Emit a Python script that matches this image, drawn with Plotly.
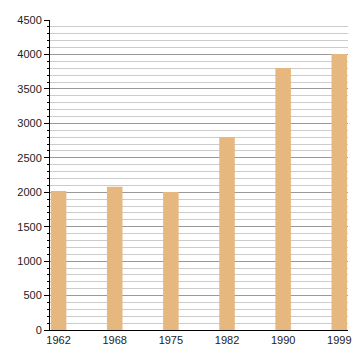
import plotly.graph_objects as go

years = ["1962", "1968", "1975", "1982", "1990", "1999"]
population = [2018, 2080, 2003, 2802, 3803, 4006]
y_ticks = [0, 500, 1000, 1500, 2000, 2500, 3000, 3500, 4000, 4500]

fig = go.Figure()
fig.add_trace(go.Bar(x=years, y=population, marker=dict(color="#E6B87F", line=dict(width=0)), width=0.277))

fig.update_layout(
    width=360, height=360,
    margin=dict(l=50, r=9, t=20, b=30),
    paper_bgcolor="white", plot_bgcolor="white",
    showlegend=False,
    font=dict(family="Liberation Sans, Arial, sans-serif", size=11, color="#222"),
)
fig.update_xaxes(
    type="category", range=[-0.153, 5.155],
    showline=True, linecolor="black", linewidth=1,
    ticks="", showgrid=False, tickfont=dict(size=11, color="#222"),
)
fig.update_yaxes(
    range=[0, 4500], tickvals=y_ticks, ticktext=[str(v) for v in y_ticks],
    showline=True, linecolor="black", linewidth=1,
    ticks="outside", ticklen=5, tickcolor="black",
    showgrid=True, gridcolor="#999", gridwidth=1,
    zeroline=False,
    minor=dict(dtick=100, tick0=0, ticks="outside", ticklen=2, tickcolor="black", showgrid=True, gridcolor="#ccc", gridwidth=1),
    tickfont=dict(size=11, color="#222"),
)

fig.write_html("out.html")
